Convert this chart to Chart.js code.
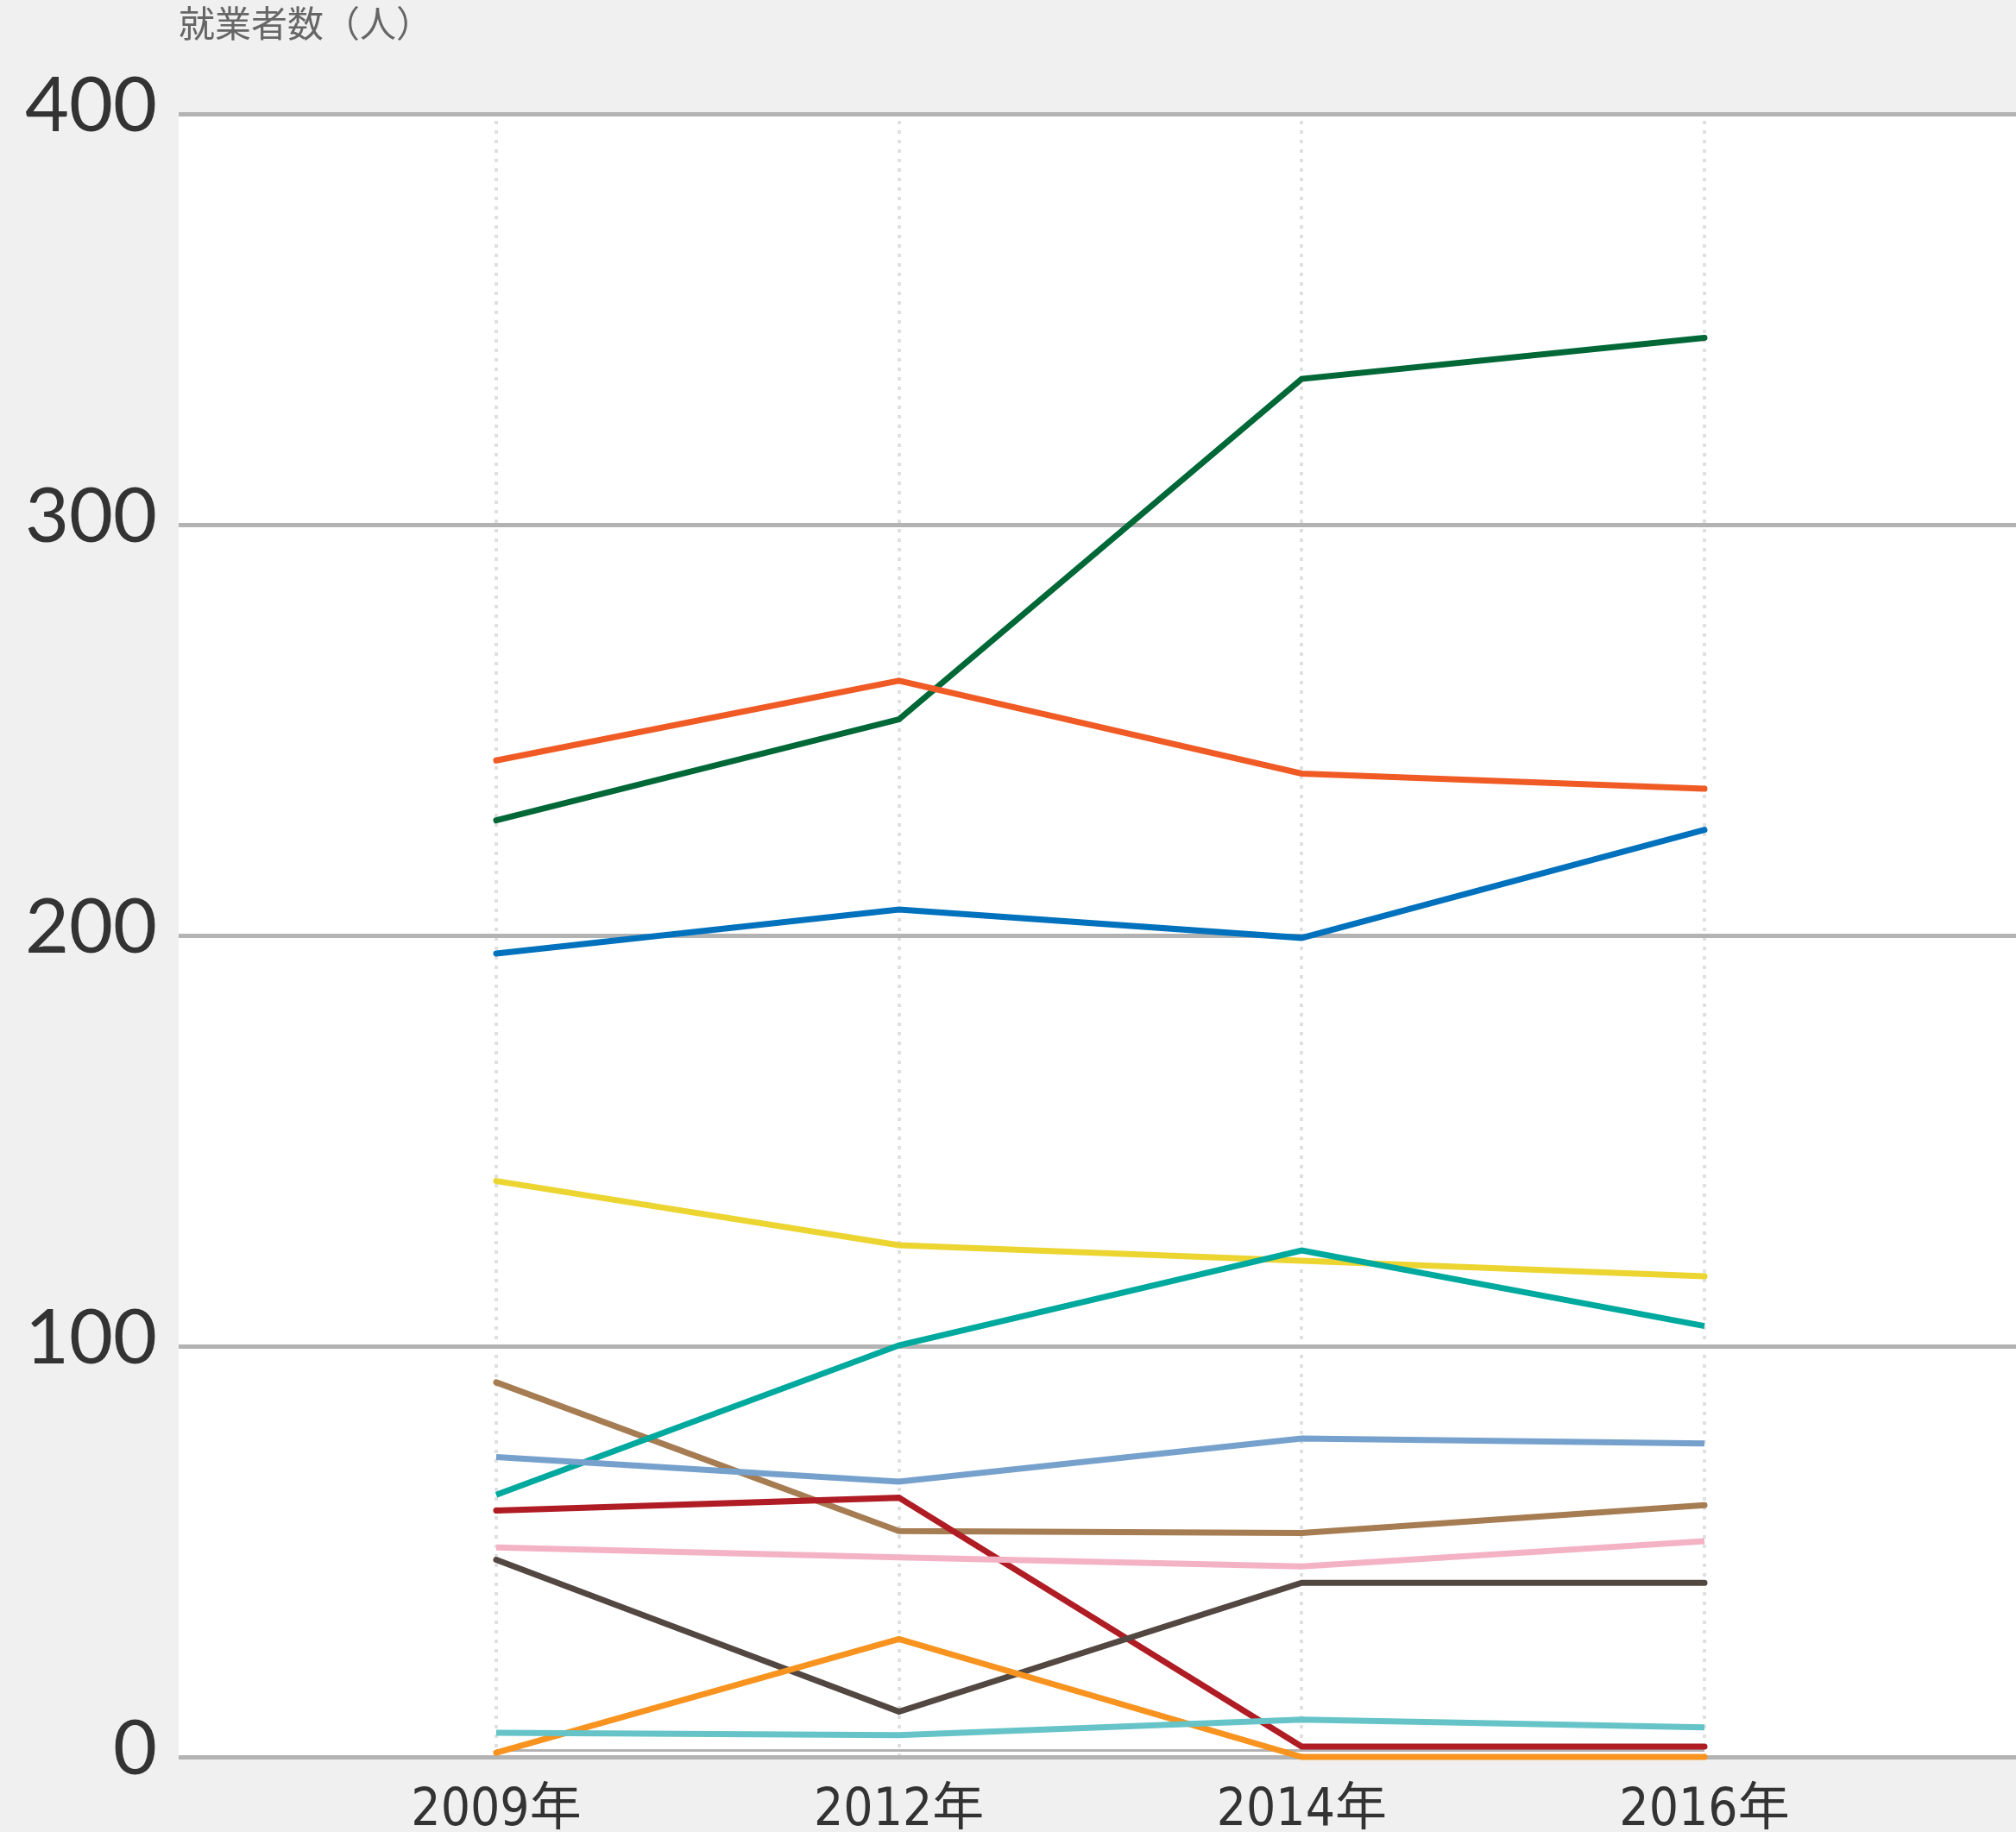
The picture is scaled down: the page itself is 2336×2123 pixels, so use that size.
<!DOCTYPE html>
<html>
<head>
<meta charset="utf-8">
<script src="https://cdn.jsdelivr.net/npm/chart.js@4"></script>
<style>
  html, body { margin: 0; padding: 0; background: #f0f0f0; }
  #wrap { width: 2336px; height: 2123px; }
</style>
</head>
<body>
<div id="wrap"><canvas id="chartCanvas"></canvas></div>
<script>
// years on the x axis
const years = ['2009年', '2012年', '2014年', '2016年'];
const yTicks = [0, 100, 200, 300, 400];
const yTitle = '就業者数（人）';

// series values (people)
const cyanVals      = [5.9, 5.3, 9.1, 7.2];
const orangeVals    = [1, 28.7, 0, 0];
const darkVals      = [48, 11, 42.4, 42.4];
const pinkVals      = [51, 48.6, 46.4, 52.5];
const redVals       = [60, 63.1, 2.5, 2.5];
const lightBlueVals = [73, 67, 77.5, 76.3];
const tealVals      = [63.8, 100.2, 123.3, 104.9];
const brownVals     = [91.2, 55, 54.5, 61.3];
const yellowVals    = [140.2, 124.6, 120.8, 117];
const blueVals      = [195.6, 206.3, 199.4, 225.7];
const redOrangeVals = [242.6, 262, 239.4, 235.7];
const greenVals     = [228, 252.6, 335.5, 345.5];
const grayVals      = [1.6, 1.6, 1.6, 1.6];

function pts(vals) {
  return vals.map((v, i) => ({ x: i, y: v }));
}

function line(label, vals, color, cap) {
  return {
    label: label,
    data: pts(vals),
    borderColor: color,
    backgroundColor: color,
    borderWidth: 7,
    borderCapStyle: cap || 'butt',
    borderJoinStyle: 'miter',
    pointRadius: 0,
    tension: 0,
    clip: 12
  };
}

// white plot area + title above it
const bgPlugin = {
  id: 'bg',
  beforeDraw(chart) {
    const a = chart.chartArea;
    const ctx = chart.ctx;
    ctx.save();
    ctx.fillStyle = '#ffffff';
    ctx.fillRect(a.left, a.top, a.right - a.left, a.bottom - a.top);
    ctx.restore();
  },
  afterDraw(chart) {
    const ctx = chart.ctx;
    ctx.save();
    ctx.fillStyle = '#666666';
    ctx.font = '42px "Noto Sans CJK JP"';
    ctx.textBaseline = 'top';
    ctx.fillText(yTitle, chart.chartArea.left, 6);
    ctx.restore();
  }
};

const ctx = document.getElementById('chartCanvas').getContext('2d');
const myChart = new Chart(ctx, {
  type: 'line',
  data: {
    datasets: [
      line('a', cyanVals, '#66c4c8'),
      line('b', orangeVals, '#f7931e', 'round'),
      line('c', darkVals, '#534741', 'round'),
      line('d', pinkVals, '#f4b2c5'),
      line('e', redVals, '#b01c24', 'round'),
      line('f', lightBlueVals, '#76a1cc'),
      line('g', tealVals, '#00a99d'),
      line('h', brownVals, '#a67c52', 'round'),
      line('i', yellowVals, '#ecd531', 'round'),
      line('j', blueVals, '#0071bc', 'round'),
      line('k', redOrangeVals, '#f05a24', 'round'),
      line('l', greenVals, '#006837', 'round'),
      Object.assign(line('m', grayVals, '#b3b3b3'), { borderWidth: 3 })
    ]
  },
  options: {
    responsive: true,
    maintainAspectRatio: false,
    animation: false,
    devicePixelRatio: 1,
    layout: { padding: { top: 132, right: 0, left: 0, bottom: 0 } },
    plugins: {
      legend: { display: false },
      tooltip: { enabled: false }
    },
    scales: {
      x: {
        type: 'linear',
        min: -0.7885,
        max: 3.7735,
        afterBuildTicks: (scale) => {
          scale.ticks = years.map((_, i) => ({ value: i }));
        },
        afterFit: (scale) => { scale.height = 87; },
        border: { display: false, dash: [4, 7], dashOffset: -8 },
        grid: {
          color: '#e0e0e0',
          lineWidth: 4,
          drawTicks: false
        },
        ticks: {
          padding: 27,
          color: '#333333',
          font: { family: '"DejaVu Sans Condensed", "Liberation Sans Narrow", "Noto Sans CJK JP"', size: 60 },
          callback: (v) => years[v] !== undefined ? years[v] : ''
        }
      },
      y: {
        min: 0,
        max: 400,
        afterBuildTicks: (scale) => {
          scale.ticks = yTicks.map((v) => ({ value: v }));
        },
        afterFit: (scale) => { scale.width = 207; },
        border: { display: false },
        grid: {
          color: '#b3b3b3',
          lineWidth: 5,
          drawTicks: false
        },
        ticks: {
          padding: 25,
          labelOffset: -8,
          color: '#333333',
          font: { family: 'Lato', size: 88 }
        }
      }
    }
  },
  plugins: [bgPlugin]
});
</script>
</body>
</html>
